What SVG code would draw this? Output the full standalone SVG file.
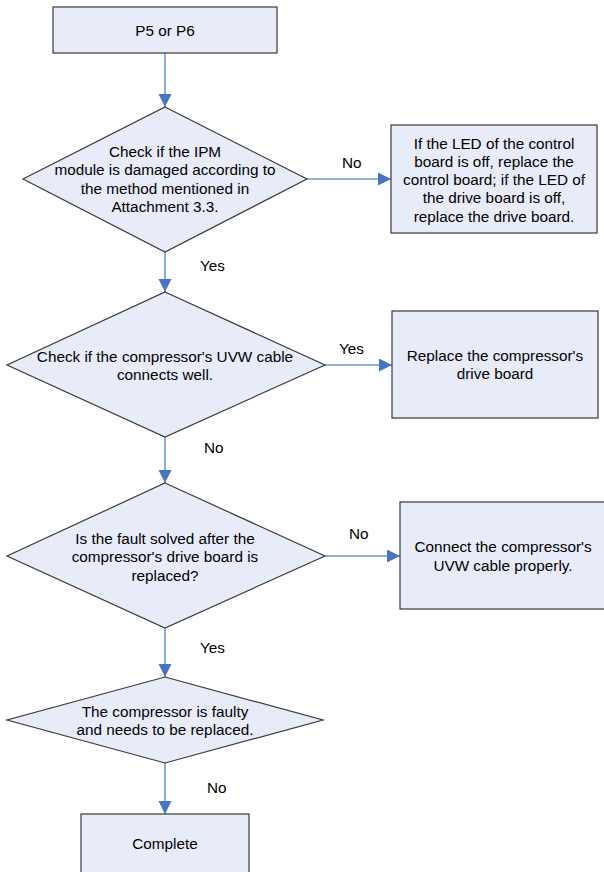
<svg xmlns="http://www.w3.org/2000/svg" width="604" height="872" viewBox="0 0 604 872">
<style>
.shape{fill:#E8ECF8;stroke:#3A3A3A;stroke-width:1.2}
.t{font-family:"Liberation Sans",Arial,sans-serif;font-size:15.3px;fill:#000;text-anchor:middle}
.lbl{font-family:"Liberation Sans",Arial,sans-serif;font-size:15.3px;fill:#000;text-anchor:start}
.c{stroke:#6E98D6;stroke-width:1.6;fill:none;marker-end:url(#ah)}
</style>
<defs>
<marker id="ah" markerUnits="userSpaceOnUse" markerWidth="14" markerHeight="14" refX="13" refY="6.5" orient="auto">
<path d="M0,0 L13,6.5 L0,13 Z" fill="#4575C4"/>
</marker>
</defs>
<rect x="0" y="0" width="604" height="872" fill="#FFFFFF"/>
<g id="connectors">
<line class="c" x1="165" y1="53" x2="165" y2="107"/>
<line class="c" x1="307" y1="179" x2="391" y2="179"/>
<line class="c" x1="165" y1="252" x2="165" y2="292"/>
<line class="c" x1="325" y1="365" x2="392" y2="365"/>
<line class="c" x1="165" y1="437" x2="165" y2="483"/>
<line class="c" x1="325" y1="556" x2="400" y2="556"/>
<line class="c" x1="165" y1="628" x2="165" y2="677"/>
<line class="c" x1="165" y1="763" x2="165" y2="814"/>
<text class="lbl" x="342" y="167.5">No</text>
<text class="lbl" x="200" y="270.5">Yes</text>
<text class="lbl" x="339" y="353.5">Yes</text>
<text class="lbl" x="204" y="452.5">No</text>
<text class="lbl" x="349" y="538.5">No</text>
<text class="lbl" x="200" y="652.5">Yes</text>
<text class="lbl" x="207" y="792.5">No</text>
</g>
<g id="start">
<rect class="shape" x="53" y="7" width="224" height="46"/>
<text class="t" x="165" y="36">P5 or P6</text>
</g>
<g id="check-ipm">
<polygon class="shape" points="165,107 307,179 165,252 23,179"/>
<text class="t" x="165" y="156.5">Check if the IPM</text>
<text class="t" x="165" y="175">module is damaged according to</text>
<text class="t" x="165" y="193.5">the method mentioned in</text>
<text class="t" x="165" y="212">Attachment 3.3.</text>
</g>
<g id="led-box">
<rect class="shape" x="391" y="125" width="206" height="108"/>
<text class="t" x="494" y="148.5">If the LED of the control</text>
<text class="t" x="494" y="166.8">board is off, replace the</text>
<text class="t" x="494" y="185.1">control board; if the LED of</text>
<text class="t" x="494" y="203.4">the drive board is off,</text>
<text class="t" x="494" y="221.7">replace the drive board.</text>
</g>
<g id="check-uvw">
<polygon class="shape" points="165,292 325,365 165,437 7,365"/>
<text class="t" x="165" y="361.5">Check if the compressor's UVW cable</text>
<text class="t" x="165" y="379.5">connects well.</text>
</g>
<g id="replace-drive">
<rect class="shape" x="392" y="311" width="206" height="107"/>
<text class="t" x="495" y="360.5">Replace the compressor's</text>
<text class="t" x="495" y="379">drive board</text>
</g>
<g id="fault-solved">
<polygon class="shape" points="165,483 325,556 165,628 7,556"/>
<text class="t" x="165" y="543.5">Is the fault solved after the</text>
<text class="t" x="165" y="562">compressor's drive board is</text>
<text class="t" x="165" y="580.5">replaced?</text>
</g>
<g id="connect-uvw">
<rect class="shape" x="400" y="502" width="206" height="107"/>
<text class="t" x="503" y="551.5">Connect the compressor's</text>
<text class="t" x="503" y="571">UVW cable properly.</text>
</g>
<g id="compressor-faulty">
<polygon class="shape" points="165,677 323,720 165,763 7,720"/>
<text class="t" x="165" y="716.5">The compressor is faulty</text>
<text class="t" x="165" y="734.5">and needs to be replaced.</text>
</g>
<g id="complete">
<rect class="shape" x="81" y="814" width="168" height="70"/>
<text class="t" x="165" y="848.5">Complete</text>
</g>
</svg>
